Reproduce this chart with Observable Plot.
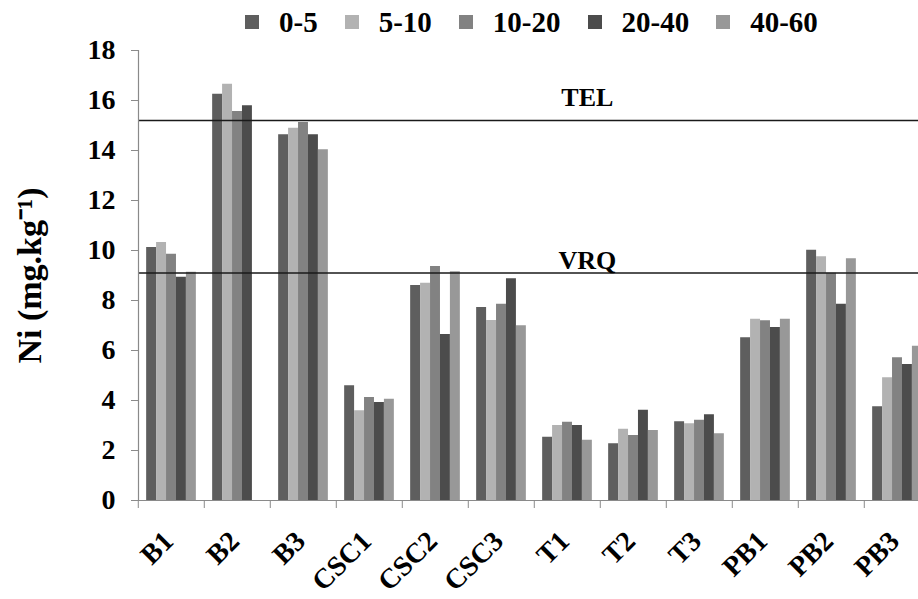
<!DOCTYPE html>
<html>
<head>
<meta charset="utf-8">
<script src="https://cdn.jsdelivr.net/npm/d3@7"></script>
<script src="https://cdn.jsdelivr.net/npm/@observablehq/plot@0.6"></script>
<style>
  html, body { margin: 0; padding: 0; background: #fff; width: 918px; height: 599px; overflow: hidden; }
  #legend { display: flex; align-items: center; height: 44px; padding-left: 245px; box-sizing: border-box;
            font: bold 29px "Liberation Serif", "Times New Roman", serif; color: #000; }
  #legend .item { display: flex; align-items: center; margin-right: 27px; }
  #legend .swatch { width: 14px; height: 14px; margin-right: 20px; }
</style>
</head>
<body>
<div id="legend"></div>
<div id="chart"></div>
<script>
// Sampling sites along the x axis
const sites = ["B1", "B2", "B3", "CSC1", "CSC2", "CSC3", "T1", "T2", "T3", "PB1", "PB2", "PB3"];
// Soil depth intervals (cm)
const depths = ["0-5", "5-10", "10-20", "20-40", "40-60"];
const depthColors = ["#5e5e5e", "#b2b2b2", "#828282", "#4c4c4c", "#989898"];

// Ni concentration (mg/kg) per depth, one value per site
const ni_0_5   = [10.12, 16.25, 14.63, 4.59, 8.60, 7.72, 2.53, 2.27, 3.15, 6.51, 10.01, 3.75];
const ni_5_10  = [10.32, 16.65, 14.89, 3.59, 8.69, 7.20, 3.00, 2.85, 3.07, 7.25, 9.75, 4.91];
const ni_10_20 = [9.85, 15.56, 15.12, 4.12, 9.36, 7.85, 3.13, 2.60, 3.21, 7.19, 9.09, 5.71];
const ni_20_40 = [8.93, 15.79, 14.63, 3.92, 6.64, 8.87, 3.00, 3.61, 3.43, 6.92, 7.85, 5.44];
const ni_40_60 = [9.13, null, 14.03, 4.05, 9.15, 6.99, 2.41, 2.80, 2.67, 7.25, 9.67, 6.17];

// Reference thresholds
const TEL = 15.2;
const VRQ = 9.1;

const yTicks = [0, 2, 4, 6, 8, 10, 12, 14, 16, 18];

const series = [ni_0_5, ni_5_10, ni_10_20, ni_20_40, ni_40_60];
const rows = [];
sites.forEach((site, i) => {
  depths.forEach((depth, j) => {
    const v = series[j][i];
    if (v != null) rows.push({site, depth, ni: v});
  });
});

const serif = '"Liberation Serif", "Times New Roman", serif';
const W = 932, H = 555, ML = 135, MT = 6, MB = 99;
const step = (W - ML) / sites.length;
const LABEL_ANGLE = -45;

const chart = Plot.plot({
  width: W,
  height: H,
  marginLeft: ML,
  marginRight: 0,
  marginTop: MT,
  marginBottom: MB,
  style: {fontFamily: serif, background: "white", overflow: "visible", maxWidth: "none"},
  fx: {domain: sites, padding: 0, label: null},
  x: {domain: depths, axis: null, paddingInner: 0, paddingOuter: 0.82, round: false},
  y: {domain: [0, 18], label: null},
  color: {domain: depths, range: depthColors},
  marks: [
    Plot.barY(rows, {fx: "site", x: "depth", y: "ni", fill: "depth"}),
    Plot.ruleY([TEL, VRQ], {stroke: "#1a1a1a", strokeWidth: 1.6}),
    Plot.ruleY([0], {stroke: "#8a8a8a", strokeWidth: 1.2}),
    Plot.frame({anchor: "left", stroke: "#8a8a8a", strokeWidth: 1.2, fx: () => sites[0]}),
    Plot.axisY({ticks: yTicks, tickSize: 7, tickPadding: 16, fontSize: 28, fontWeight: "bold",
                stroke: "#8a8a8a", fill: "black", label: null}),
    Plot.axisY({ticks: [], label: "Ni (mg.kg⁻¹)", labelAnchor: "center", labelArrow: "none",
                labelOffset: 122, fontSize: 34, fontWeight: "bold", fill: "black"}),
    Plot.text([{label: "TEL", v: TEL}], {fx: () => "T1", x: () => "40-60", y: "v", text: "label",
               dy: -15, lineAnchor: "bottom", fontSize: 26, fontWeight: "bold", fill: "black"}),
    Plot.text([{label: "VRQ", v: VRQ}], {fx: () => "T1", x: () => "40-60", y: "v", text: "label",
               dy: -4, lineAnchor: "bottom", fontSize: 26, fontWeight: "bold", fill: "black"}),
    // category separators below the baseline
    Plot.axisFx({anchor: "bottom", tickSize: 8, tickFormat: () => "", dx: -step / 2,
                 stroke: "#8a8a8a", label: null}),
    // slanted site names
    Plot.text(sites, {fx: (d) => d, text: (d) => d, frameAnchor: "bottom", rotate: LABEL_ANGLE,
                      textAnchor: "end", lineAnchor: "middle", dx: -3, dy: 36, fontSize: 28,
                      fontWeight: "bold", fill: "#000", ariaLabel: "site-labels"})
  ]
});
document.getElementById("chart").appendChild(chart);

// Make sure every site name carries its slant once the chart is in the page
chart.querySelectorAll('g[aria-label="site-labels"] text').forEach((t) => {
  const m = t.getCTM();
  if (!m || Math.abs(m.b) < 1e-6) {
    const tr = t.getAttribute("transform") || "";
    t.setAttribute("transform", tr.replace(/\s*rotate\([^)]*\)/, "") + ` rotate(${LABEL_ANGLE})`);
  }
});

// Legend row above the chart
const legend = d3.select("#legend");
depths.forEach((d, i) => {
  const item = legend.append("div").attr("class", "item");
  item.append("div").attr("class", "swatch").style("background", depthColors[i]);
  item.append("span").text(d);
});
</script>
</body>
</html>
